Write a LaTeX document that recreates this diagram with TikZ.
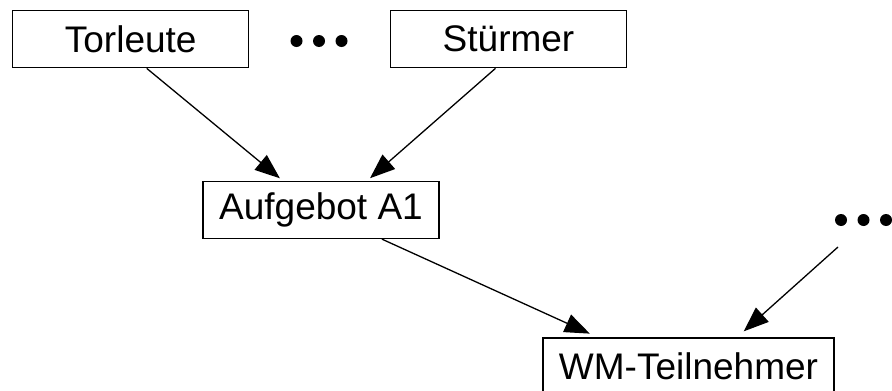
\documentclass[tikz,border=0pt]{standalone}
\usepackage{fontspec}
\setmainfont{Liberation Sans}
\usetikzlibrary{arrows.meta, positioning, calc}
\tikzset{
  every picture/.style={font=\fontsize{37}{42}\selectfont, line width=1.3pt, x=1pt, y=-1pt},
  box/.style={draw=black, fill=white, align=center, inner xsep=15pt, minimum width=236pt, minimum height=57pt},
  arrow/.style={-{Triangle[length=25pt, width=19pt]}, draw=black, line width=1.3pt},
  dots/.style={minimum width=57pt, minimum height=13pt, inner sep=0pt,
    path picture={\foreach \dx in {-22.5,0,22.5}
      \fill[black] ($(path picture bounding box.center)+(\dx,0)$) circle (6pt);}},
}
\begin{document}
\begin{tikzpicture}
  \useasboundingbox (0,0) rectangle (892,391);
  % row 1: the parts of a squad
  \node[box] (keeper) at (130.7,39.2) {Torleute};
  \node[dots] (parts) at (319,41) {};
  \node[box] (striker) at (508.5,39.2) {Stürmer};
  % row 2: one squad, row 3: all participants
  \node[box] (squad) at (321,210) {Aufgebot A1};
  \node[dots] (more) at (863.5,220) {};
  \node[box, minimum width=291pt] (wm) at (688.5,366.5) {WM-Teilnehmer};
  \draw[arrow, shorten >=4pt] ([xshift=16pt]keeper.south) -- ([xshift=-38pt]squad.north);
  \draw[arrow, shorten >=4pt] ([xshift=-13pt]striker.south) -- ([xshift=46pt]squad.north);
  \draw[arrow, shorten >=9pt] ([xshift=61pt]squad.south) -- ([xshift=-90.5pt]wm.north);
  \draw[arrow, shorten >=9pt] ($(more.center)+(-25.5,27)$) -- ([xshift=48.5pt]wm.north);
\end{tikzpicture}
\end{document}
